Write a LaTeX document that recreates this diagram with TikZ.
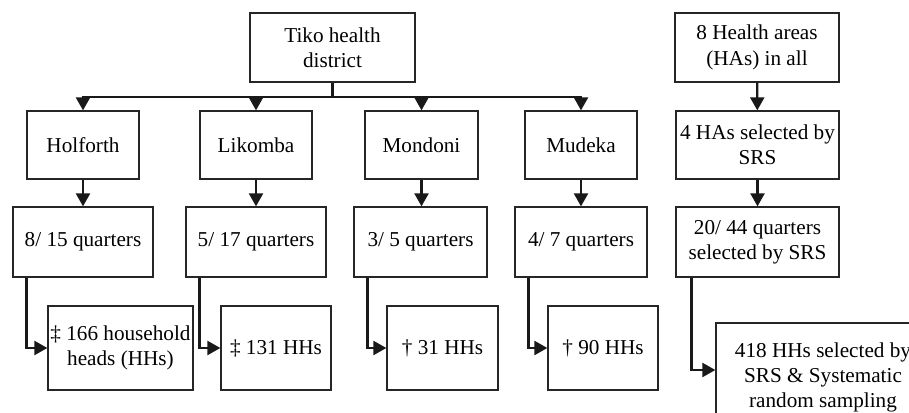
\documentclass[tikz,border=0pt]{standalone}
\usepackage{fontspec}
\setmainfont{Liberation Serif}
\usetikzlibrary{arrows.meta,positioning,calc}
\begin{document}
\begin{tikzpicture}[x=1pt,y=-1pt,
  box/.style={draw=black!85,line width=1.3pt,fill=white,align=center,inner sep=0pt,
    font=\fontsize{21.2}{25.4}\selectfont},
  ln/.style={line width=2.3pt,black!90},
  arr/.style={ln,-{Triangle[width=14pt,length=13pt]}}]
\clip (0,0) rectangle (909,412);
\fill[white] (0,0) rectangle (909,412);
% row 1
\node[box,minimum width=165pt,minimum height=69pt] (tiko) at (332.5,47.5) {Tiko health\\district};
\node[box,minimum width=164pt,minimum height=69pt] (ha8) at (757,47.5) {8 Health areas\\(HAs) in all};
% row 2
\node[box,minimum width=112pt,minimum height=68pt] (hol) at (83,145) {Holforth};
\node[box,minimum width=112pt,minimum height=68pt] (lik) at (256,145) {Likomba};
\node[box,minimum width=113pt,minimum height=68pt] (mon) at (421.5,145) {Mondoni};
\node[box,minimum width=112pt,minimum height=68pt] (mud) at (581,145) {Mudeka};
\node[box,minimum width=163pt,minimum height=68pt] (ha4) at (757.5,145) {4 HAs selected by\\SRS};
% row 3
\node[box,minimum width=140pt,minimum height=70pt] (q1) at (83,242) {8/ 15 quarters};
\node[box,minimum width=140pt,minimum height=70pt] (q2) at (256,242) {5/ 17 quarters};
\node[box,minimum width=133pt,minimum height=70pt] (q3) at (420.5,242) {3/ 5 quarters};
\node[box,minimum width=132pt,minimum height=70pt] (q4) at (581,242) {4/ 7 quarters};
\node[box,minimum width=163pt,minimum height=70pt] (q5) at (757.5,242) {20/ 44 quarters\\selected by SRS};
% row 4
\node[box,minimum width=145pt,minimum height=84pt] (h1) at (120.5,348) {‡ 166 household\\heads (HHs)};
\node[box,minimum width=110pt,minimum height=84pt] (h2) at (276,348) {‡ 131 HHs};
\node[box,minimum width=111pt,minimum height=84pt] (h3) at (442.5,348) {† 31 HHs};
\node[box,minimum width=110pt,minimum height=84pt] (h4) at (603,348) {† 90 HHs};
\node[box,minimum width=214pt,minimum height=109pt] (h5) at (823,377.5) {418 HHs selected by\\SRS \& Systematic\\random sampling};
% connectors
\path (tiko.south) ++(0,14) coordinate (bus);
\draw[ln] (tiko.south) -- (bus);
\draw[arr] (bus) -| (hol.north);
\draw[arr] (bus) -| (lik.north);
\draw[arr] (bus) -| (mon.north);
\draw[arr] (bus) -| (mud.north);
\draw[arr] (ha8) -- (ha4);
\draw[arr] (hol) -- (q1);
\draw[arr] (lik) -- (q2);
\draw[arr] (mon.south) -- (mon.south |- q3.north);
\draw[arr] (mud) -- (q4);
\draw[arr] (ha4) -- (q5);
\draw[arr] ([xshift=14pt]q1.south west) |- (h1.west);
\draw[arr] ([xshift=14pt]q2.south west) |- (h2.west);
\draw[arr] ([xshift=14pt]q3.south west) |- (h3.west);
\draw[arr] ([xshift=14pt]q4.south west) |- (h4.west);
\draw[arr] ([xshift=16pt]q5.south west) |- ([yshift=7.5pt]h5.west);
\end{tikzpicture}
\end{document}
